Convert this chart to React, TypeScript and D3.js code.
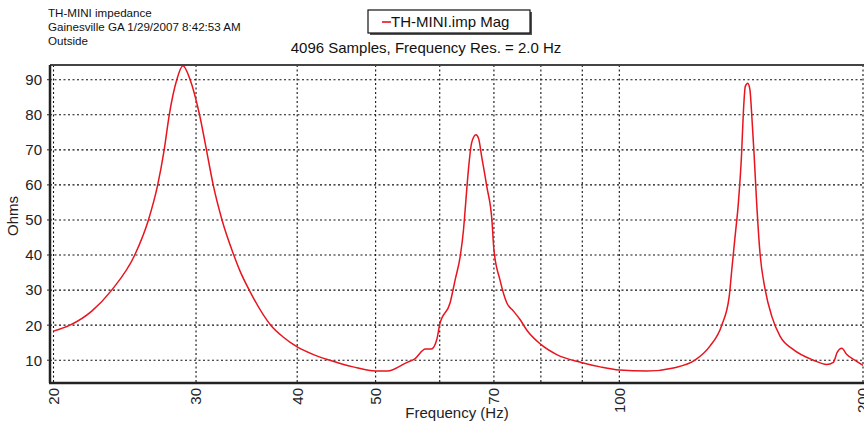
import React from "react";
import * as d3 from "d3";

const titleLines = ["TH-MINI impedance", "Gainesville GA 1/29/2007 8:42:53 AM", "Outside"];
const legendLabel = "TH-MINI.imp Mag";
const subtitle = "4096 Samples, Frequency Res. = 2.0 Hz";
const xTitle = "Frequency (Hz)";
const yTitle = "Ohms";

const xGrid = [20, 30, 40, 50, 60, 70, 80, 90, 100, 200];
const xTickLabels = [20, 30, 40, 50, 70, 100, 200];
const yTicks = [10, 20, 30, 40, 50, 60, 70, 80, 90];

const freq = [
  20, 20.96, 22.3, 23.6, 25.2, 26.2, 26.9, 27.4, 27.8, 28.4, 28.9, 29.5, 30.3, 30.9, 31.5, 32.3, 33.4, 34.0,
  34.9, 37.1, 38.4, 40, 41.9, 43.9, 46.9, 50, 51.7, 54.6, 55.9, 57.6, 58.6, 59.5, 60, 61.8, 62.7, 63.6,
  64.2, 64.5, 65.1, 65.7, 66.5, 67.0, 67.6, 68.6, 69.6, 70, 71.2, 72.6, 74.0, 75.4, 76.8, 80, 83.7, 90,
  94.7, 100, 108.1, 116.6, 124, 129.4, 133.8, 136.7, 137.7, 139.0, 140.3, 141.6, 142.3, 143.1, 144.1,
  145.0, 145.7, 146.7, 147.8, 149.2, 151.4, 154.3, 158.0, 164.1, 173.7, 180.4, 183.8, 185.9, 188.3,
  191.0, 196.4, 200,
];
const ohms = [
  18.3, 20, 24, 30, 40, 50, 60, 70, 80, 90, 94, 90, 80, 70, 60, 50, 40, 35.4,
  30, 20, 16.7, 13.8, 11.6, 10, 8.1, 6.9, 6.9, 9.3, 10.4, 13.2, 13.2, 15.9, 20.2, 26.4, 33, 39.6,
  47.2, 52.9, 64.3, 72, 74.3, 73.3, 68.1, 59.5, 50, 41.5, 33, 26.4, 24, 21.6, 18.7, 14.5, 11.6, 9.3,
  8.1, 7.2, 6.9, 7.8, 10, 14, 19.9, 28.2, 35.8, 45.3, 54.8, 69, 80.5, 88.1, 89,
  87.1, 80.5, 69, 54.8, 40.6, 30.2, 22.5, 16.8, 13, 10, 8.8, 9.4, 12.3, 13.4,
  11.6, 9.7, 8.5,
];

const W = 864;
const H = 424;
const font = "'Liberation Sans', Arial, Helvetica, sans-serif";
const red = "#e8141e";

export default function App() {
  const x = d3.scaleLog().domain([20, 200]).range([53.5, 863]);
  const y = d3.scaleLinear().domain([3.5, 94.2]).range([383, 65]);
  const frameL = 50;
  const frameR = 866;
  const frameT = y(94.2);
  const frameB = y(3.5);

  const pts: [number, number][] = freq.map((f, i) => [x(f), y(ohms[i])]);
  const line = d3.line().curve(d3.curveMonotoneX)(pts) || "";

  return (
    <svg
      width={W}
      height={H}
      style={{ position: "absolute", left: 0, top: 0, background: "#fff" }}
      fontFamily={font}
    >
      <defs>
        <clipPath id="plotclip">
          <rect x={frameL} y={frameT} width={frameR - frameL} height={frameB - frameT} />
        </clipPath>
      </defs>
      <rect x={0} y={0} width={W} height={H} fill="#fff" />

      {titleLines.map((t, i) => (
        <text key={t} x={48} y={17 + i * 14} fontSize={11.6} fill="#111">
          {t}
        </text>
      ))}

      {/* legend */}
      <rect x={370} y={12} width={162} height={23} fill="#555" />
      <rect x={368} y={10} width={162} height={23} fill="#fff" stroke="#111" strokeWidth={1.2} />
      <line x1={382} x2={391} y1={22} y2={22} stroke={red} strokeWidth={1.6} />
      <text x={391} y={27} fontSize={15} fill="#111">
        {legendLabel}
      </text>

      <text x={426} y={53} fontSize={15} textAnchor="middle" fill="#111">
        {subtitle}
      </text>

      {/* grid */}
      <g stroke="#111" strokeWidth={1.1} strokeDasharray="2,2.5">
        {yTicks.map((v) => (
          <line key={"gy" + v} x1={frameL} x2={frameR} y1={y(v)} y2={y(v)} />
        ))}
        {xGrid.map((f) => (
          <line key={"gx" + f} x1={x(f)} x2={x(f)} y1={frameT} y2={frameB} />
        ))}
      </g>

      <path d={line} fill="none" stroke={red} strokeWidth={1.5} clipPath="url(#plotclip)" />

      {/* frame */}
      <line x1={frameL} x2={frameR} y1={frameT} y2={frameT} stroke="#444" strokeWidth={2} />
      <line x1={frameL} x2={frameL} y1={frameT} y2={frameB} stroke="#222" strokeWidth={2.5} />
      <line x1={frameL - 1} x2={frameR} y1={frameB} y2={frameB} stroke="#222" strokeWidth={2.5} />

      {/* y ticks */}
      {yTicks.map((v) => (
        <g key={"yt" + v}>
          <line x1={frameL - 3} x2={frameL} y1={y(v)} y2={y(v)} stroke="#222" strokeWidth={1} />
          <text x={42} y={y(v)} dy="0.36em" fontSize={15} textAnchor="end" fill="#222">
            {v}
          </text>
        </g>
      ))}

      {/* x tick labels */}
      {xTickLabels.map((f) => (
        <text
          key={"xt" + f}
          transform={`translate(${x(f)},388) rotate(-90)`}
          dy="0.36em"
          fontSize={15}
          textAnchor="end"
          fill="#222"
        >
          {f}
        </text>
      ))}

      <text x={457} y={418} fontSize={15} textAnchor="middle" fill="#222">
        {xTitle}
      </text>
      <text transform="translate(18,216) rotate(-90)" fontSize={15} textAnchor="middle" fill="#222">
        {yTitle}
      </text>
    </svg>
  );
}
